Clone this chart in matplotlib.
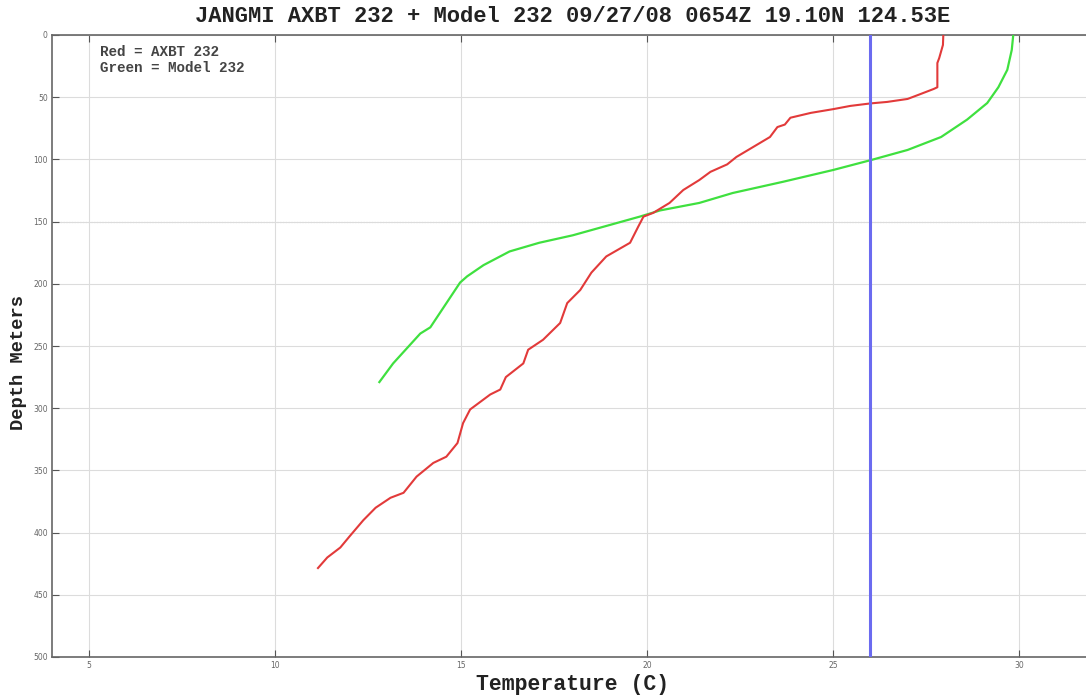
import numpy as np
import matplotlib.pyplot as plt

# AXBT 232 (red) - depth in m, temperature in C
axbt_depth = [0, 8, 18.5, 22.5, 42, 43.4, 48, 51.4, 53.8, 55, 57, 59.6, 62.6, 66.5,
              72, 74, 82, 90, 98, 104, 110, 116.6, 124.6, 135, 143, 146, 154, 167,
              178, 191, 205, 215.5, 231.5, 245, 253, 264, 275, 285, 289, 301, 312,
              328, 339, 344, 355, 368, 372, 380, 390, 403, 412, 420, 428.5]
axbt_temp = [27.96, 27.95, 27.85, 27.8, 27.8, 27.7, 27.3, 27.0, 26.45, 26.0, 25.46,
             25.0, 24.4, 23.85, 23.7, 23.5, 23.3, 22.85, 22.4, 22.15, 21.7, 21.4,
             20.97, 20.6, 20.16, 19.9, 19.76, 19.54, 18.9, 18.5, 18.2, 17.85, 17.66,
             17.2, 16.8, 16.67, 16.2, 16.05, 15.78, 15.24, 15.05, 14.9, 14.6, 14.25,
             13.8, 13.45, 13.1, 12.7, 12.37, 12.0, 11.75, 11.4, 11.15]

# Model 232 (green)
model_depth = [0, 12, 28, 42, 54.7, 68, 82, 92.4, 100.5, 108.5, 118, 127, 135, 141,
               146, 161, 167, 174, 185, 194, 199, 217, 235, 240, 264, 279]
model_temp = [29.84, 29.8, 29.68, 29.44, 29.14, 28.6, 27.9, 27.0, 26.02, 25.0, 23.65,
              22.3, 21.4, 20.35, 19.8, 18.0, 17.1, 16.3, 15.6, 15.16, 14.97, 14.57,
              14.17, 13.9, 13.17, 12.8]

marker_temp = 26  # 26C reference line

xticks = [5, 10, 15, 20, 25, 30]
yticks = [0, 50, 100, 150, 200, 250, 300, 350, 400, 450, 500]

mono = "Liberation Mono"

fig = plt.figure(figsize=(10.86, 6.96), dpi=100)
ax = fig.add_axes([52 / 1086, 39 / 696, 1041.6 / 1086, 622 / 696])

ax.grid(True, color="#dcdcdc", linewidth=0.8)
ax.axhline(150, color="#b0b0b0", linewidth=0.8, linestyle=(0, (1, 1.5)), zorder=1)

ax.plot(model_temp, model_depth, color="#3fe03f", linewidth=1.6, zorder=3)
ax.plot(axbt_temp, axbt_depth, color="#e23a3a", linewidth=1.5, zorder=4)
ax.axvline(marker_temp, color="#6b6bf0", linewidth=2.2, zorder=5)

ax.set_xlim(4, 32)
ax.set_ylim(500, 0)
ax.set_xticks(xticks)
ax.set_yticks(yticks)
ax.tick_params(direction="in", length=5, width=0.8, color="#555555",
               labelsize=5.5, labelcolor="#666666", top=True, pad=3)
for s in ax.spines.values():
    s.set_color("#666666")
    s.set_linewidth(1.2)

ax.set_title("JANGMI AXBT 232 + Model 232 09/27/08 0654Z 19.10N 124.53E",
             fontfamily=mono, fontweight="bold", fontsize=15.9, pad=9, color="#222222")
ax.set_xlabel("Temperature (C)", fontfamily=mono, fontweight="bold", fontsize=15.5,
              labelpad=3, color="#222222")
ax.set_ylabel("Depth Meters", fontfamily=mono, fontweight="bold", fontsize=13.5,
              color="#222222")
ax.yaxis.set_label_coords(-0.024, 0.474)

ax.text(0.046, 0.984, "Red = AXBT 232\nGreen = Model 232", transform=ax.transAxes,
        fontfamily=mono, fontweight="bold", fontsize=10.3, color="#444444",
        va="top", ha="left", linespacing=1.2)

fig.savefig("out.png", dpi=100)
